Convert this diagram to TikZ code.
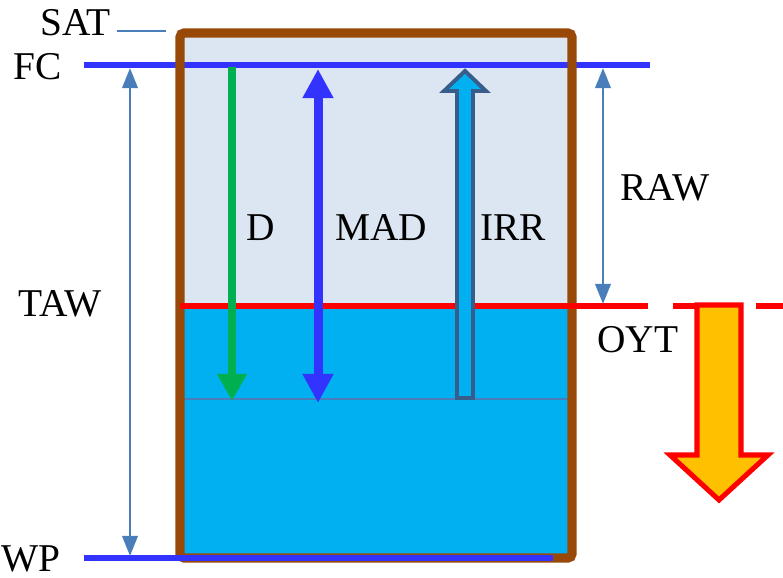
\documentclass[tikz,border=0pt]{standalone}
\usepackage{fontspec}
\setmainfont{Liberation Serif}
\usetikzlibrary{arrows.meta}
\definecolor{soilbrown}{RGB}{152,72,7}
\definecolor{topfill}{RGB}{220,230,242}
\definecolor{water}{RGB}{0,176,240}
\definecolor{fcblue}{RGB}{51,51,255}
\definecolor{steel}{RGB}{74,126,187}
\definecolor{dgreen}{RGB}{0,176,80}
\definecolor{irredge}{RGB}{56,93,138}
\definecolor{oytorange}{RGB}{255,192,0}

\begin{document}
\begin{tikzpicture}[
  x=0.025cm, y=-0.025cm,
  font=\fontsize{28}{32}\selectfont,
  lbl/.style={inner sep=0pt, anchor=center},
  level/.style={line width=4.3pt, color=fcblue},
  thinarr/.style={{Triangle[length=0.5cm,width=0.38cm]}-{Triangle[length=0.5cm,width=0.38cm]},
                  line width=2.1pt, color=steel},
  darr/.style={-{Triangle[length=0.675cm,width=0.7cm]}, line width=5.7pt, color=dgreen},
  madarr/.style={{Triangle[length=0.725cm,width=0.725cm]}-{Triangle[length=0.725cm,width=0.725cm]},
                 line width=6.4pt, color=fcblue},
]
\useasboundingbox (0,0) rectangle (783,578);

% levels
\coordinate (satA) at (117,31);  \coordinate (satB) at (166,31);
\coordinate (fcL) at (84,65);    \coordinate (fcR) at (650,65);
\coordinate (oytL) at (180,306); \coordinate (oytR) at (648,306);
\coordinate (dashL) at (673,306); \coordinate (dashR) at (783,306);
\coordinate (dL) at (180,399);   \coordinate (dR) at (572,399);
\coordinate (wpL) at (84,558);   \coordinate (wpR) at (553,558);

% soil column
\fill[topfill] (180,33) rectangle (572,306);
\fill[water] (180,306) rectangle (572,558);
\draw[line width=1.4pt, color=steel] (dL) -- (dR);
\draw[level] (fcL) -- (fcR);
\draw[line width=6.6pt, color=soilbrown, rounded corners=3pt] (180,33) rectangle (572,558);
\draw[line width=4.3pt, color=red] (oytL) -- (oytR);
\draw[line width=4.3pt, color=red, dash pattern=on 1.25cm off 0.825cm] (dashL) -- (dashR);
\draw[level] (wpL) -- (wpR);
\draw[line width=1.1pt, color=steel] (satA) -- (satB);

% labels
\node[lbl] (sat) at (76,23) {SAT};
\node[lbl] (fc) at (38,67) {FC};
\node[lbl] (taw) at (60,304) {TAW};
\node[lbl] (wp) at (31,559) {WP};
\node[lbl] (d) at (261,228) {D};
\node[lbl] (mad) at (381,228) {MAD};
\node[lbl] (irr) at (513,228) {IRR};
\node[lbl] (raw) at (665,188) {RAW};
\node[lbl] (oyt) at (638,340) {OYT};

% depth arrows
\coordinate (tawT) at (130,68);  \coordinate (tawB) at (130,556);
\coordinate (rawT) at (603,68);  \coordinate (rawB) at (603,304);
\coordinate (dT) at (232,67);    \coordinate (dB) at (232,401);
\coordinate (madT) at (318,69);  \coordinate (madB) at (318,403);
\draw[thinarr] (tawT) -- (tawB);
\draw[thinarr] (rawT) -- (rawB);
\draw[darr] (dT) -- (dB);
\draw[madarr] (madT) -- (madB);

% irrigation and drainage block arrows
\draw[line width=2.8pt, color=irredge, fill=water]
  (457,398) -- (457,91) -- (444,91) -- (465,71) -- (486,91) -- (473,91) -- (473,398) -- cycle;
\draw[line width=3.6pt, color=red, fill=oytorange]
  (697,305) -- (697,455) -- (670,455) -- (719,500) -- (768,455) -- (741,455) -- (741,305) -- cycle;
\end{tikzpicture}
\end{document}
